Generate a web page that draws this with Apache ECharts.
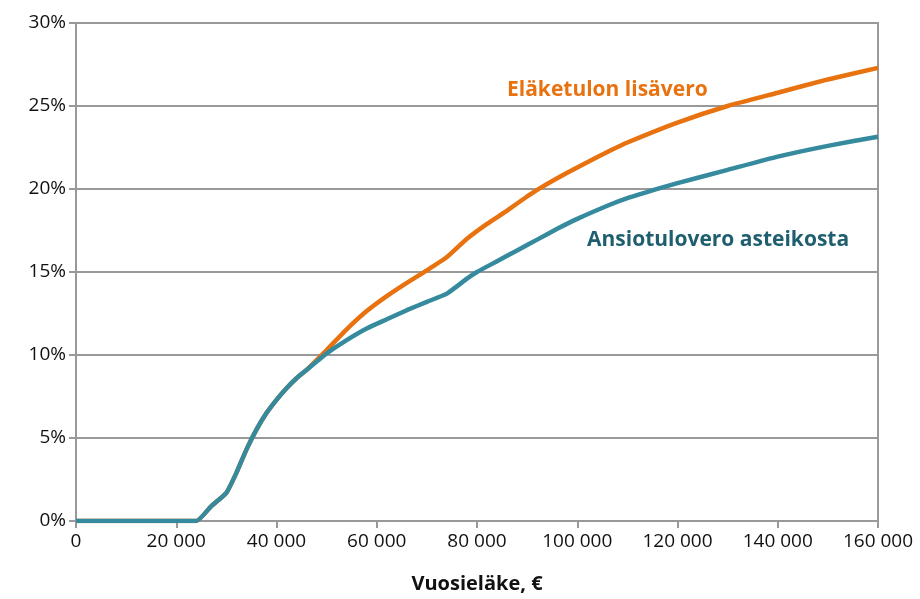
<!DOCTYPE html>
<html>
<head>
<meta charset="utf-8">
<script src="https://cdn.jsdelivr.net/npm/echarts@6/dist/echarts.min.js"></script>
<style>html,body{margin:0;padding:0;background:#fff}#c{width:920px;height:599px}</style>
</head>
<body>
<div id="c"></div>
<script>
// Vuosieläke (€) and average tax rate (%)
const ansioX = [0, 24000, 27000, 30000, 32000, 34000, 36000, 38000, 40000, 42000, 44000, 46000, 48000, 50000, 54000, 58000, 62000, 66000, 70000, 74000, 78000, 80000, 84000, 88000, 92000, 96000, 100000, 106500, 110000, 116500, 120000, 130000, 140000, 150000, 160000];
const ansioY = [0, 0, 0.9, 1.7, 2.9, 4.3, 5.5, 6.5, 7.3, 8.0, 8.6, 9.1, 9.6, 10.1, 10.9, 11.6, 12.15, 12.7, 13.2, 13.7, 14.6, 15.0, 15.65, 16.3, 16.95, 17.6, 18.2, 19.05, 19.45, 20.05, 20.35, 21.15, 21.95, 22.6, 23.15];
const lisaX = [0, 24000, 27000, 30000, 32000, 34000, 36000, 38000, 40000, 42000, 44000, 46000, 48000, 50000, 54000, 58000, 62000, 66000, 70000, 74000, 78000, 82000, 86000, 90000, 92000, 96000, 100000, 106500, 110000, 120000, 130000, 140000, 150000, 160000];
const lisaY = [0, 0, 0.9, 1.7, 2.9, 4.3, 5.5, 6.5, 7.3, 8.0, 8.6, 9.1, 9.7, 10.3, 11.55, 12.65, 13.55, 14.35, 15.1, 15.9, 17.0, 17.9, 18.7, 19.55, 19.95, 20.65, 21.3, 22.3, 22.8, 24.0, 25.0, 25.8, 26.6, 27.3];
const seriesNames = ['Eläketulon lisävero', 'Ansiotulovero asteikosta'];
const xAxisTitle = 'Vuosieläke, €';

const pair = (xs, ys) => xs.map((x, i) => [x, ys[i]]);
const FONT = '"Open Sans", "Noto Sans", sans-serif';
const chart = echarts.init(document.getElementById('c'));
chart.setOption({
  animation: false,
  backgroundColor: '#fff',
  grid: { left: 76, right: 42, top: 23, bottom: 78, show: true, borderColor: '#999', borderWidth: 2 },
  xAxis: {
    type: 'value', min: 0, max: 160000, interval: 20000,
    name: xAxisTitle, nameLocation: 'middle', nameGap: 53,
    nameTextStyle: { fontFamily: FONT, fontWeight: 'bold', fontSize: 20, color: '#111' },
    axisLine: { lineStyle: { color: '#999', width: 2 } },
    axisTick: { show: true, length: 7, lineStyle: { color: '#999', width: 2 } },
    splitLine: { show: false },
    axisLabel: { fontFamily: FONT, fontSize: 19, color: '#111', margin: 11,
      formatter: v => String(v).replace(/\B(?=(\d{3})+(?!\d))/g, ' ') }
  },
  yAxis: {
    type: 'value', min: 0, max: 30, interval: 5,
    axisLine: { show: true, lineStyle: { color: '#999', width: 2 } },
    axisTick: { show: true, length: 7, lineStyle: { color: '#999', width: 2 } },
    splitLine: { show: true, lineStyle: { color: '#999', width: 2 } },
    axisLabel: { fontFamily: FONT, fontSize: 19, color: '#111', margin: 10, formatter: '{value}%' }
  },
  series: [
    { name: seriesNames[0], type: 'line', data: pair(lisaX, lisaY), showSymbol: false, symbol: 'none', smooth: 0.15,
      lineStyle: { color: '#E8720F', width: 4.5 }, z: 2 },
    { name: seriesNames[1], type: 'line', data: pair(ansioX, ansioY), showSymbol: false, symbol: 'none', smooth: 0.15,
      lineStyle: { color: '#358A9E', width: 4.5 }, z: 3 }
  ],
  graphic: [
    { type: 'text', left: 507, top: 80, style: { text: seriesNames[0], fontFamily: FONT, fontWeight: 'bold', fontSize: 21, fill: '#E8720F' } },
    { type: 'text', left: 587, top: 230, style: { text: seriesNames[1], fontFamily: FONT, fontWeight: 'bold', fontSize: 21, fill: '#1F5E6E' } }
  ]
});
</script>
</body>
</html>
